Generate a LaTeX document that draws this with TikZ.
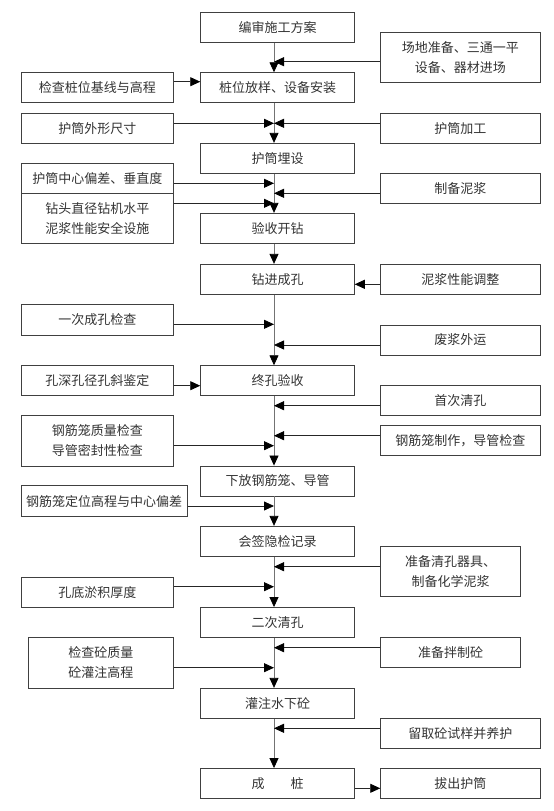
\documentclass[tikz,border=0pt]{standalone}
\usepackage{fontspec}
\newfontfamily\cjk{Noto Sans CJK SC}
\usetikzlibrary{arrows.meta}

\begin{document}
\begin{tikzpicture}[x=1pt, y=-1pt,
	box/.style={draw=black!75, line width=0.9pt, inner sep=0pt, align=center,
		text=black!80, font=\cjk\fontsize{13}{20}\selectfont},
	main/.style={box, minimum width=153.6pt, minimum height=30pt},
	rbox/.style={box, minimum width=159.3pt, minimum height=30pt},
	lbox/.style={box, minimum width=152.7pt, minimum height=30pt},
	arr/.style={line width=0.8pt, black!85, -{Triangle[length=10pt,width=9pt,color=black]}},
	spine/.style={arr, black!55}]
	\useasboundingbox (0,0) rectangle (554,811);
	\coordinate (sp) at (274,0);

	% main column
	\node[main] (m1) at (277.5,27.5) {编审施工方案};
	\node[main] (m2) at (277.5,87.7) {桩位放样、设备安装};
	\node[main] (m3) at (277.5,158.3) {护筒埋设};
	\node[main] (m4) at (277.5,228.3) {验收开钻};
	\node[main] (m5) at (277.5,279.3) {钻进成孔};
	\node[main] (m6) at (277.5,380.7) {终孔验收};
	\node[main] (m7) at (277.5,481) {下放钢筋笼、导管};
	\node[main] (m8) at (277.5,541.3) {会签隐检记录};
	\node[main] (m9) at (277.5,622.5) {二次清孔};
	\node[main] (m10) at (277.5,703.3) {灌注水下砼};
	\node[main] (m11) at (277.5,783.5) {成\hspace{2em}桩};

	% right column
	\node[rbox, minimum height=49.5pt] (r1) at (460.35,57.25) {场地准备、三通一平\\设备、器材进场};
	\node[rbox] (r2) at (460.35,128.3) {护筒加工};
	\node[rbox] (r3) at (460.35,188.3) {制备泥浆};
	\node[rbox] (r4) at (460.35,279.3) {泥浆性能调整};
	\node[rbox] (r5) at (460.35,340) {废浆外运};
	\node[rbox] (r6) at (460.35,400.7) {首次清孔};
	\node[rbox] (r7) at (460.35,440.7) {钢筋笼制作，导管检查};
	\node[rbox, minimum width=139.9pt, minimum height=50pt] (r8) at (450.65,571.7) {准备清孔器具、\\制备化学泥浆};
	\node[rbox, minimum width=139.9pt] (r9) at (450.65,652.7) {准备拌制砼};
	\node[rbox] (r10) at (460.35,733.3) {留取砼试样并养护};
	\node[rbox] (r11) at (460.35,783.5) {拔出护筒};

	% left column
	\node[lbox] (l1) at (97.35,87.7) {检查桩位基线与高程};
	\node[lbox] (l2) at (97.35,128.3) {护筒外形尺寸};
	\node[lbox] (l3) at (97.35,178.3) {护筒中心偏差、垂直度};
	\node[lbox, minimum height=50pt] (l4) at (97.35,218.3) {钻头直径钻机水平\\泥浆性能安全设施};
	\node[lbox, minimum height=31pt] (l5) at (97.35,319.8) {一次成孔检查};
	\node[lbox] (l6) at (97.35,380.7) {孔深孔径孔斜鉴定};
	\node[lbox, minimum height=50.3pt] (l7) at (97.35,440.85) {钢筋笼质量检查\\导管密封性检查};
	\node[lbox, minimum width=166.3pt, minimum height=31pt] (l8) at (104.15,501.2) {钢筋笼定位高程与中心偏差};
	\node[lbox] (l9) at (97.35,592.3) {孔底淤积厚度};
	\node[lbox, minimum width=145.7pt, minimum height=50.6pt] (l10) at (100.85,663) {检查砼质量\\砼灌注高程};

	% spine
	\foreach \a/\b in {m1/m2, m2/m3, m3/m4, m4/m5, m5/m6, m6/m7, m7/m8, m8/m9, m9/m10, m10/m11}
		\draw[spine] (\a.south -| sp) -- (\b.north -| sp);

	% inputs from the right
	\foreach \n/\y in {r1/61.7, r2/123.3, r3/193.3, r5/345, r6/405.7, r7/435.7, r8/566.7, r9/647.7, r10/728.3}
		\draw[arr] (\n.west |- 0,\y) -- (sp |- 0,\y);
	\draw[arr] (r4.west |- 0,284.3) -- (m5.east |- 0,284.3);

	% inputs from the left
	\foreach \n/\y in {l2/123.3, l3/183.3, l4/203.3, l5/324.3, l7/445.7, l8/506, l9/586.7, l10/667.7}
		\draw[arr] (\n.east |- 0,\y) -- (sp |- 0,\y);
	\draw[arr] (l1.east |- 0,81.7) -- (m2.west |- 0,81.7);
	\draw[arr] (l6.east |- 0,385.7) -- (m6.west |- 0,385.7);

	\draw[arr] (m11.east |- 0,788.3) -- (r11.west |- 0,788.3);
\end{tikzpicture}
\end{document}
